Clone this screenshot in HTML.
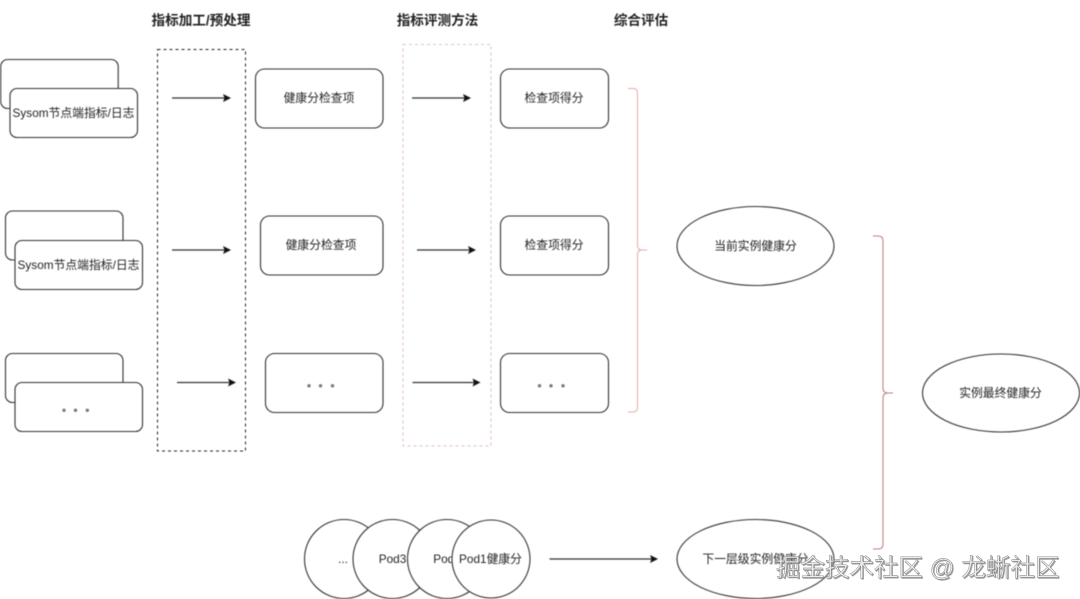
<!DOCTYPE html>
<html lang="zh">
<head>
<meta charset="utf-8">
<style>
html,body{margin:0;padding:0;background:#fff;width:1080px;height:599px;overflow:hidden}
svg{display:block;font-family:"Liberation Sans","Noto Sans CJK SC",sans-serif}
.b{fill:#fff;stroke:#333;stroke-width:1.100}
.t{font-size:11.800px;fill:#222;text-anchor:middle}
.h{font-size:13.600px;font-weight:bold;fill:#222;text-anchor:middle}
.a{stroke:#333;stroke-width:1.200;fill:none}
.d{fill:#777}
</style>
</head>
<body>
<svg width="1080" height="599" viewBox="0 0 1080 599" xmlns="http://www.w3.org/2000/svg">
<rect width="1080" height="599" fill="#fff"/>
<g style="filter:blur(0.4px)">
<text class="h" x="201" y="25">指标加工/预处理</text>
<text class="h" x="437.500" y="25">指标评测方法</text>
<text class="h" x="641" y="25">综合评估</text>

<rect class="b" x="0.700" y="59.500" width="117.500" height="49" rx="7"/>
<rect class="b" x="10" y="88.500" width="127.500" height="49" rx="7"/>
<text class="t" x="73.500" y="117">Sysom节点端指标/日志</text>
<rect class="b" x="5.500" y="211" width="117.500" height="49" rx="7"/>
<rect class="b" x="15" y="240.500" width="127.500" height="49" rx="7"/>
<text class="t" x="78.500" y="269">Sysom节点端指标/日志</text>
<rect class="b" x="5.500" y="353.500" width="117.500" height="49" rx="7"/>
<rect class="b" x="15" y="382.500" width="127.500" height="49" rx="7"/>
<circle class="d" cx="64" cy="410.300" r="1.700"/><circle class="d" cx="75.500" cy="410.300" r="1.700"/><circle class="d" cx="87.300" cy="410.300" r="1.700"/>

<rect x="157.500" y="49.500" width="88" height="401.500" fill="none" stroke="#222" stroke-width="1" stroke-dasharray="3 3"/>
<rect x="403" y="44.500" width="88" height="401.500" fill="none" stroke="#dfc0c0" stroke-width="1" stroke-dasharray="3 3"/>

<path class="a" d="M172 98H225"/><path d="M231 98l-8-4 1.500 4-1.500 4z" fill="#111"/>
<path class="a" d="M172 250H225"/><path d="M231 250l-8-4 1.500 4-1.500 4z" fill="#111"/>
<path class="a" d="M177 382.500H230"/><path d="M236 382.500l-8-4 1.500 4-1.500 4z" fill="#111"/>
<path class="a" d="M412 98H465"/><path d="M471 98l-8-4 1.500 4-1.500 4z" fill="#111"/>
<path class="a" d="M417 250H470"/><path d="M476 250l-8-4 1.500 4-1.500 4z" fill="#111"/>
<path class="a" d="M412.500 382.500H474"/><path d="M480.500 382.500l-8-4 1.500 4-1.500 4z" fill="#111"/>

<rect class="b" x="255.500" y="69" width="127.500" height="59" rx="9"/>
<text class="t" x="319" y="102">健康分检查项</text>
<rect class="b" x="260.500" y="216" width="122.500" height="59" rx="9"/>
<text class="t" x="321" y="249">健康分检查项</text>
<rect class="b" x="265.500" y="353.500" width="117.500" height="59" rx="9"/>
<circle class="d" cx="309" cy="385.800" r="1.700"/><circle class="d" cx="320.500" cy="385.800" r="1.700"/><circle class="d" cx="332.500" cy="385.800" r="1.700"/>

<rect class="b" x="500.500" y="69" width="108" height="59" rx="9"/>
<text class="t" x="554" y="102">检查项得分</text>
<rect class="b" x="500.500" y="216" width="108" height="59" rx="9"/>
<text class="t" x="554" y="249">检查项得分</text>
<rect class="b" x="500.500" y="353.500" width="108" height="59" rx="9"/>
<circle class="d" cx="539.500" cy="385.800" r="1.700"/><circle class="d" cx="551" cy="385.800" r="1.700"/><circle class="d" cx="563" cy="385.800" r="1.700"/>

<path d="M628 88.500H633Q637.500 88.500 637.500 93V245.500Q637.500 250 642 250H647M642 250Q637.500 250 637.500 254.500V407.500Q637.500 412 633 412H628" fill="none" stroke="#e6a9a9" stroke-width="1"/>
<path d="M873 236H878Q883 236 883 241V388Q883 393 888 393H893M888 393Q883 393 883 398V544Q883 549 878 549H873" fill="none" stroke="#c07a7a" stroke-width="1"/>

<ellipse class="b" cx="755.500" cy="246" rx="78.500" ry="39.500"/>
<text class="t" x="755.500" y="250">当前实例健康分</text>
<ellipse class="b" cx="1001" cy="393" rx="78.500" ry="39"/>
<text class="t" x="1000.500" y="397">实例最终健康分</text>
<ellipse class="b" cx="755.500" cy="559" rx="78.500" ry="39.500"/>
<text class="t" x="755.500" y="563">下一层级实例健康分</text>

<circle class="b" cx="344" cy="559" r="39.500"/>
<text class="t" x="343" y="563">...</text>
<circle class="b" cx="392.500" cy="559" r="39.500"/>
<text class="t" x="392.500" y="563">Pod3</text>
<circle class="b" cx="447" cy="559" r="39.500"/>
<text class="t" x="447" y="563">Pod2</text>
<circle class="b" cx="491" cy="559" r="39"/>
<text class="t" x="490.500" y="563">Pod1健康分</text>

<path class="a" d="M549.500 559H652"/><path d="M658 559l-8-4 1.500 4-1.500 4z" fill="#111"/>
</g>
<text x="776" y="576" font-size="24.500" fill="#ececec" stroke="#777" stroke-width="0.400" style="filter:drop-shadow(1px 1px 0 rgba(120,120,120,.7))">掘金技术社区 @ 龙蜥社区</text>
</svg>
</body>
</html>
